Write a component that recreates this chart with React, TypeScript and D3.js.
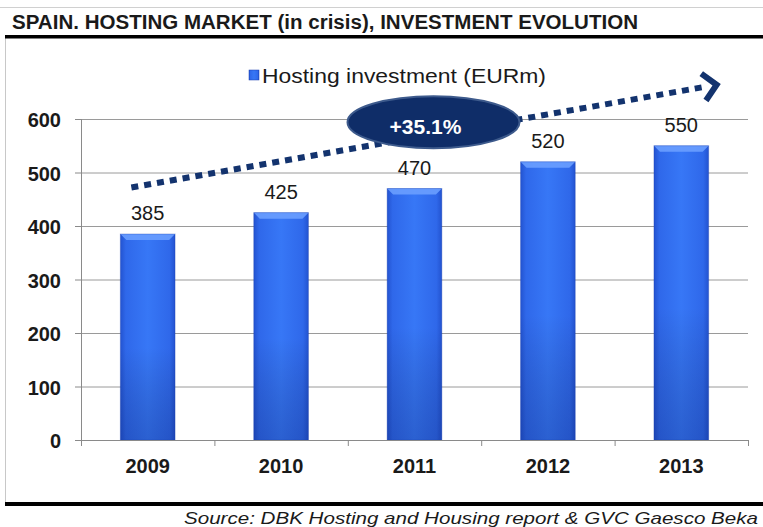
import React from 'react';
import * as d3 from 'd3';

const years = ['2009', '2010', '2011', '2012', '2013'];
const investment = [385, 425, 470, 520, 550];
const yTicks = [0, 100, 200, 300, 400, 500, 600];
const growthLabel = '+35.1%';
const trendValues = [472, 664];

const W = 763;
const H = 527;
const margin = { left: 81, right: 15, top: 119, bottom: 87 };
const sans = '"Liberation Sans", Arial, sans-serif';

export default function App() {
  const x = d3.scaleBand<string>()
    .domain(years)
    .range([margin.left, W - margin.right])
    .paddingInner(0.59)
    .paddingOuter(0.295);

  const y = d3.scaleLinear()
    .domain([0, 600])
    .range([H - margin.bottom, margin.top]);

  const bw = x.bandwidth();
  const step = x.step();
  const x0 = margin.left;
  const x1 = W - margin.right;
  const y0 = y(0);

  // trend arrow, anchored on the first and last categories
  const ax = (x(years[0]) as number) + 11;
  const ay = y(trendValues[0]);
  const bx = (x(years[4]) as number) + bw + 8;
  const by = y(trendValues[1]);
  const ang = Math.atan2(by - ay, bx - ax);
  const head = (a: number) => [bx - 19 * Math.cos(ang + a), by - 19 * Math.sin(ang + a)];
  const h1 = head(0.8);
  const h2 = head(-0.8);

  const ex = (x(years[2]) as number) + bw / 2 + 19;
  const ey = y(594);

  return (
    <svg width={W} height={H} style={{ position: 'fixed', left: 0, top: 0, background: '#fff' }}>
      <defs>
        <linearGradient id="barGrad" x1="0" x2="1" y1="0" y2="0">
          <stop offset="0" stopColor="#2353d0" />
          <stop offset="0.1" stopColor="#2f68ea" />
          <stop offset="0.5" stopColor="#3777f6" />
          <stop offset="0.9" stopColor="#2f68ea" />
          <stop offset="1" stopColor="#2353d0" />
        </linearGradient>
        <linearGradient id="barShade" x1="0" x2="0" y1="0" y2="1">
          <stop offset="0" stopColor="#000" stopOpacity="0" />
          <stop offset="0.55" stopColor="#000" stopOpacity="0" />
          <stop offset="1" stopColor="#001050" stopOpacity="0.22" />
        </linearGradient>
      </defs>

      {/* frame */}
      <line x1={0} x2={W} y1={7.5} y2={7.5} stroke="#d0d0d0" strokeWidth={1} />
      <line x1={5.5} x2={5.5} y1={38} y2={502} stroke="#c8c8c8" strokeWidth={1} />
      <rect x={5} y={35} width={W - 5} height={3.5} fill="#000" />
      <rect x={5} y={502} width={W - 5} height={4} fill="#000" />

      <text x={12} y={29} fontFamily={sans} fontWeight="bold" fontSize={20} fill="#1a1a1a"
        textLength={626} lengthAdjust="spacingAndGlyphs">
        SPAIN. HOSTING MARKET (in crisis), INVESTMENT EVOLUTION
      </text>

      {/* grid */}
      {yTicks.slice(1).map(t => (
        <line key={t} x1={x0} x2={x1} y1={y(t) + 0.5} y2={y(t) + 0.5} stroke="#9a9a9a" strokeWidth={1} />
      ))}
      <line x1={x0 + 0.5} x2={x0 + 0.5} y1={y(600)} y2={y0} stroke="#8a8a8a" />
      {yTicks.map(t => (
        <g key={t}>
          <line x1={x0 - 6} x2={x0} y1={y(t) + 0.5} y2={y(t) + 0.5} stroke="#8a8a8a" />
          <text x={61} y={y(t) + 8} textAnchor="end" fontFamily={sans}
            fontWeight="bold" fontSize={20} fill="#1a1a1a">{t}</text>
        </g>
      ))}

      {/* bars */}
      {years.map((yr, i) => {
        const bx0 = x(yr) as number;
        const top = y(investment[i]);
        return (
          <g key={yr}>
            <rect x={bx0} y={top} width={bw} height={y0 - top} fill="url(#barGrad)" />
            <rect x={bx0} y={top} width={bw} height={y0 - top} fill="url(#barShade)" />
            <path d={`M${bx0},${top}L${bx0 + bw},${top}L${bx0 + bw - 6},${top + 6}L${bx0 + 6},${top + 6}Z`}
              fill="#6a9eff" opacity={0.9} />
            <rect x={bx0} y={top} width={bw} height={y0 - top} fill="none" stroke="#1a3fae" strokeOpacity={0.35} />
            <text x={bx0 + bw / 2} y={top - 14} textAnchor="middle" fontFamily={sans}
              fontSize={20} fill="#1a1a1a">{investment[i]}</text>
          </g>
        );
      })}

      {/* x axis */}
      <line x1={x0} x2={x1} y1={y0 + 0.5} y2={y0 + 0.5} stroke="#8a8a8a" />
      {d3.range(years.length + 1).map(k => (
        <line key={k} x1={x0 + k * step + 0.5} x2={x0 + k * step + 0.5} y1={y0} y2={y0 + 6} stroke="#8a8a8a" />
      ))}
      {years.map(yr => (
        <text key={yr} x={(x(yr) as number) + bw / 2} y={y0 + 33} textAnchor="middle"
          fontFamily={sans} fontWeight="bold" fontSize={20} fill="#1a1a1a">{yr}</text>
      ))}

      {/* legend */}
      <rect x={249} y={70} width={10} height={10} fill="url(#barGrad)" stroke="#1a3fae" strokeWidth={0.5} />
      <text x={262} y={83} fontFamily={sans} fontSize={20} fill="#1a1a1a"
        textLength={284} lengthAdjust="spacingAndGlyphs">Hosting investment (EURm)</text>

      {/* trend arrow */}
      <line x1={ax} y1={ay} x2={bx - 10 * Math.cos(ang)} y2={by - 10 * Math.sin(ang)}
        stroke="#13336e" strokeWidth={6} strokeDasharray="7 6" />
      <polyline points={`${h1[0]},${h1[1]} ${bx},${by} ${h2[0]},${h2[1]}`} fill="none"
        stroke="#13336e" strokeWidth={6} strokeLinejoin="miter" />

      {/* growth bubble */}
      <ellipse cx={ex} cy={ey} rx={86} ry={26} fill="#0f2d68" stroke="#3d5a8c" strokeWidth={2} />
      <text x={ex - 8} y={ey + 12} textAnchor="middle" fontFamily={sans}
        fontWeight="bold" fontSize={21} fill="#fff">{growthLabel}</text>

      {/* source */}
      <text x={184} y={524} fontFamily={sans} fontStyle="italic" fontSize={17} fill="#1a1a1a"
        textLength={574} lengthAdjust="spacingAndGlyphs">
        Source: DBK Hosting and Housing report &amp; GVC Gaesco Beka
      </text>
    </svg>
  );
}
